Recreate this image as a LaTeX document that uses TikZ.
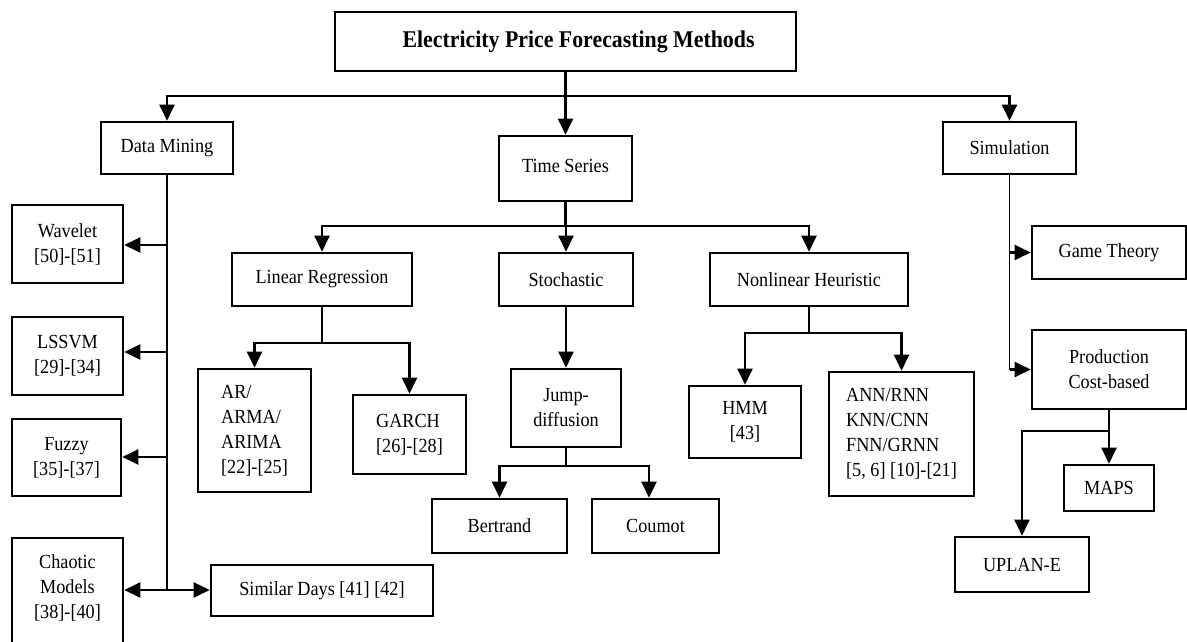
\documentclass[tikz,border=0pt]{standalone}
\usepackage{fontspec}
\setmainfont{Liberation Serif}[FakeStretch=0.91]
\usetikzlibrary{arrows.meta}
\begin{document}
\begin{tikzpicture}[x=1pt,y=-1pt,
  box/.style={draw, line width=2.6pt, inner sep=0pt, align=center,
    font=\fontsize{20}{25}\selectfont},
  lbox/.style={box, align=left},
  txt/.style={inner sep=0pt, align=center, font=\fontsize{20}{25}\selectfont},
  link/.style={line width=2.2pt},
  thinlink/.style={line width=1.5pt},
  arr/.style={link, -{Triangle[length=16pt,width=15pt]}},
]
\useasboundingbox (0,0) rectangle (1187,642);

% ---- root and first level ----
\node[box, minimum width=461pt, minimum height=59pt,
      font=\fontsize{24}{28}\selectfont\bfseries] (root) at (565.5,41.5)
      {\hspace*{26pt}Electricity Price Forecasting Methods};
\node[box, minimum width=132pt, minimum height=52pt] (dm) at (167,148) {Data Mining};
\node[box, minimum width=133pt, minimum height=65pt] (ts) at (565.5,168.5) {\raisebox{6pt}{Time Series}};
\node[box, minimum width=133pt, minimum height=52pt] (sim) at (1009.5,148) {Simulation};

% ---- data mining branch ----
\node[box, minimum width=111pt, minimum height=78pt] (wav) at (67.5,244) {Wavelet\\{[50]-[51]}};
\node[box, minimum width=111pt, minimum height=78pt] (lssvm) at (67.5,356) {LSSVM\\{[29]-[34]}};
\node[box, minimum width=109pt, minimum height=77pt] (fuz) at (66.5,457.5) {Fuzzy\\{[35]-[37]}};
\node[box, minimum width=111pt, minimum height=110pt] (cha) at (67.5,593) {};
\node[txt] (chatxt) at (67.5,588) {Chaotic\\Models\\{[38]-[40]}};
\node[box, minimum width=222pt, minimum height=51pt] (sd) at (322,590.5) {Similar Days [41] [42]};

% ---- time series branch ----
\node[box, minimum width=180pt, minimum height=53pt] (lr) at (322,279.5) {Linear Regression};
\node[box, minimum width=134pt, minimum height=53pt] (sto) at (566,279.5) {Stochastic};
\node[box, minimum width=198pt, minimum height=53pt] (nl) at (809,279.5) {Nonlinear Heuristic};
\node[lbox, minimum width=113pt, minimum height=123pt] (ar) at (254.5,430.5) {AR/\\ARMA/\\ARIMA\\{[22]-[25]}};
\node[lbox, minimum width=113pt, minimum height=79pt] (ga) at (409.5,434.5) {GARCH\\{[26]-[28]}};
\node[box, minimum width=110pt, minimum height=78pt] (jd) at (566,408) {Jump-\\diffusion};
\node[box, minimum width=135pt, minimum height=54pt] (be) at (499.5,526) {Bertrand};
\node[box, minimum width=127pt, minimum height=54pt] (co) at (655.5,526) {Coumot};
\node[box, minimum width=112pt, minimum height=72pt] (hmm) at (745,422) {HMM\\{[43]}};
\node[lbox, minimum width=145pt, minimum height=124pt] (ann) at (901.5,434)
      {ANN/RNN\\KNN/CNN\\FNN/GRNN\\{[5, 6] [10]-[21]}};

% ---- simulation branch ----
\node[box, minimum width=154pt, minimum height=53pt] (gt) at (1109,252.5) {Game Theory};
\node[box, minimum width=154pt, minimum height=79pt] (prod) at (1109,369.5) {Production\\Cost-based};
\node[box, minimum width=90pt, minimum height=46pt] (maps) at (1109,488) {MAPS};
\node[box, minimum width=134pt, minimum height=55pt] (up) at (1022,564.5) {UPLAN-E};

% ---- connectors: root ----
\coordinate (r0) at (565.5,96);
\draw[link] (root.south) -- (r0);
\draw[arr] (r0) -- (ts.north);
\draw[arr] (r0) -| (dm.north);
\draw[arr] (r0) -| (sim.north);

% ---- connectors: data mining ----
\coordinate (d0) at (167,245);
\coordinate (d1) at (167,352);
\coordinate (d2) at (167,457);
\coordinate (d3) at (167,590);
\draw[link] (dm.south) -- (d3);
\draw[arr] (d0) -- (d0 -| wav.east);
\draw[arr] (d1) -- (d1 -| lssvm.east);
\draw[arr] (d2) -- (d2 -| fuz.east);
\draw[arr] (d3) -- (d3 -| cha.east);
\draw[arr] (d3) -- (d3 -| sd.west);

% ---- connectors: time series ----
\coordinate (t0) at (565.5,226);
\draw[link] (ts.south) -- (t0);
\draw[arr] (t0) -| (lr.north);
\draw[arr] (t0) -- (t0 -| sto.north) -- (sto.north);
\draw[arr] (t0) -| (nl.north);

\coordinate (l0) at (322,343);
\draw[link] (lr.south) -- (l0);
\draw[arr] (l0) -| (ar.north);
\draw[arr] (l0) -| (ga.north);

\draw[arr] (sto.south) -- (jd.north);

\coordinate (s0) at (566,466);
\coordinate (s1) at (649,466);
\draw[thinlink] (jd.south) -- (s0);
\draw[arr] (s0) -| (be.north);
\draw[arr] (s0) -- (s1) -- (s1 |- co.north);

\coordinate (n0) at (809,333);
\draw[thinlink] (nl.south) -- (n0);
\draw[arr] (n0) -| (hmm.north);
\draw[arr] (n0) -| (ann.north);

% ---- connectors: simulation ----
\coordinate (m0) at (1009.5,369.5);
\coordinate (m1) at (1009.5,252.5);
\draw[thinlink] (sim.south) -- (m0);
\draw[arr] (m1) -- (gt.west);
\draw[arr] (m0) -- (prod.west);

\coordinate (p0) at (1109,431);
\draw[link] (prod.south) -- (p0);
\draw[arr] (p0) -- (maps.north);
\draw[arr] (p0) -| (up.north);
\end{tikzpicture}
\end{document}
